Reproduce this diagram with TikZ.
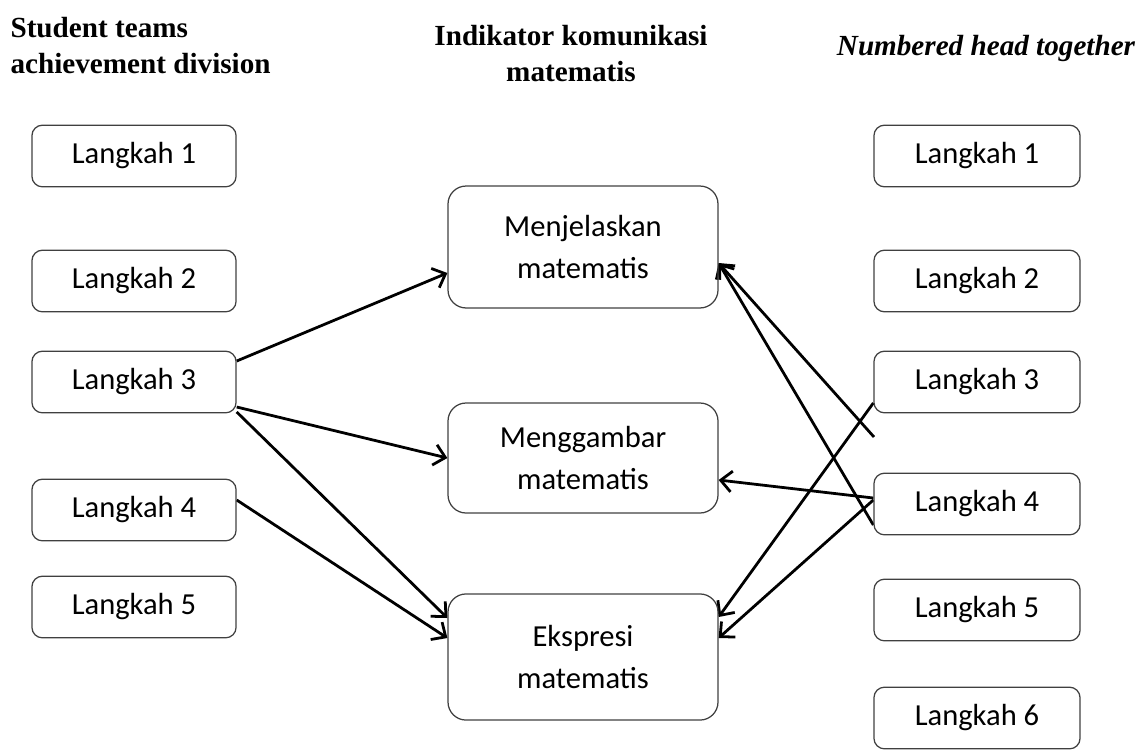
\documentclass[tikz,border=0pt]{standalone}
\usepackage{fontspec}
\setmainfont{Liberation Serif}
\newfontfamily\boxfont{Carlito}
\usetikzlibrary{arrows.meta,calc}
\pgfdeclarelayer{bg}
\pgfsetlayers{bg,main}

\tikzset{
    head/.style={inner sep=0pt, font=\fontsize{10.5}{13}\selectfont\bfseries},
    langkah/.style={draw=black!75, line width=0.45pt, rounded corners=3.8pt,
        minimum width=73.5pt, minimum height=22.2pt, inner sep=0pt,
        font=\boxfont\fontsize{11}{15}\selectfont},
    indikator/.style={langkah, rounded corners=6.5pt, minimum width=97.2pt, align=center},
    link/.style={line width=1pt, -{Straight Barb[length=4pt,width=7.5pt]}}
}

\begin{document}
\begin{tikzpicture}[x=0.36pt, y=-0.36pt]
    \useasboundingbox (0,0) rectangle (1144,752);

    \node (hsad) [head, anchor=north west, align=left] at (10,17) {Student teams\\achievement division};
    \node (hind) [head, anchor=north, align=center] at (571,25) {Indikator komunikasi\\matematis};
    \node (hnht) [head, anchor=base, font=\fontsize{10.5}{13}\selectfont\bfseries\itshape] at (986,55) {Numbered head together};

    \node (l1) [langkah] at (134,156) {Langkah 1};
    \node (l2) [langkah] at (134,281) {Langkah 2};
    \node (l3) [langkah] at (134,382) {Langkah 3};
    \node (l4) [langkah] at (134,510) {Langkah 4};
    \node (l5) [langkah] at (134,607) {Langkah 5};

    \node (m1) [indikator, minimum height=43.9pt] at (583,247) {Menjelaskan\\matematis};
    \node (m2) [indikator, minimum height=39.6pt] at (583,458) {Menggambar\\matematis};
    \node (m3) [indikator, minimum height=45.4pt] at (583,657) {Ekspresi\\matematis};

    \node (r1) [langkah, minimum width=74.2pt] at (977,156) {Langkah 1};
    \node (r2) [langkah, minimum width=74.2pt] at (977,281) {Langkah 2};
    \node (r3) [langkah, minimum width=74.2pt] at (977,382) {Langkah 3};
    \node (r4) [langkah, minimum width=74.2pt] at (977,504) {Langkah 4};
    \node (r5) [langkah, minimum width=74.2pt] at (977,610) {Langkah 5};
    \node (r6) [langkah, minimum width=74.2pt] at (977,718) {Langkah 6};

    \coordinate (r3end) at (874,437);

    \begin{pgfonlayer}{bg}
        \draw ($(l3.east)+(0,-21)$) edge[link] ($(m1.west)+(0,26)$);
        \draw ($(l3.east)+(0,25)$) edge[link] (m2.west);
        \draw ($(l3.east)+(0,30)$) edge[link] ($(m3.west)+(0,-39)$);
        \draw ($(l4.east)+(0,-10)$) edge[link] ($(m3.west)+(0,-19)$);
        \draw (r3end) edge[link] ($(m1.east)+(0,16)$);
        \draw ($(r4.west)+(0,21)$) edge[link] ($(m1.east)+(0,16)$);
        \draw ($(r4.west)+(0,-6)$) edge[link] ($(m2.east)+(0,22)$);
        \draw ($(r3.west)+(0,21)$) edge[link] ($(m3.east)+(0,-40)$);
        \draw ($(r4.west)+(0,-4)$) edge[link] ($(m3.east)+(0,-19)$);
    \end{pgfonlayer}
\end{tikzpicture}
\end{document}
